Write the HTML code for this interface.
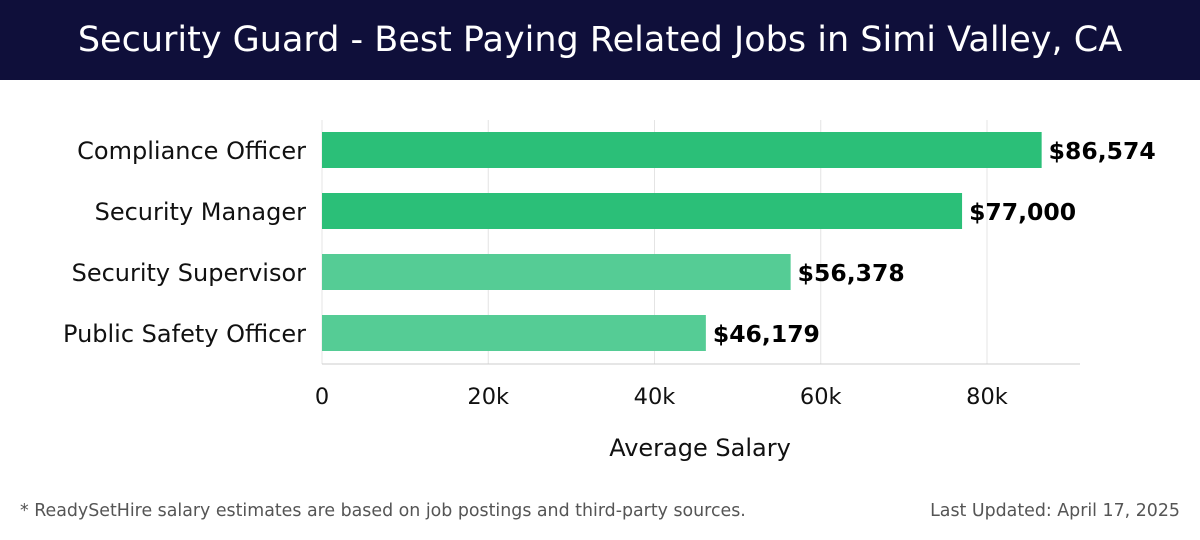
<!DOCTYPE html>
<html><head><meta charset="utf-8"><style>
body{margin:0;width:1200px;height:540px;background:#fff;font-family:"DejaVu Sans","Liberation Sans",sans-serif;overflow:hidden}
#hdr{position:absolute;left:0;top:0;width:1200px;height:80px;background:#0f0f3a;color:#fff;font-size:35px;text-align:center;line-height:80px}
.foot{position:absolute;top:501px;font-size:17.4px;color:#555}
</style></head><body>
<div id="hdr">Security Guard - Best Paying Related Jobs in Simi Valley, CA</div>
<svg id="chart" width="1200" height="460" style="position:absolute;left:0;top:80px;font-family:'DejaVu Sans',sans-serif"></svg>
<div class="foot" style="left:20px">* ReadySetHire salary estimates are based on job postings and third-party sources.</div>
<div class="foot" style="right:20px">Last Updated: April 17, 2025</div>
<script>
const categories=["Compliance Officer","Security Manager","Security Supervisor","Public Safety Officer"];
const values=[86574,77000,56378,46179];
const labels=["$86,574","$77,000","$56,378","$46,179"];
const ticks=[0,20000,40000,60000,80000];
const tickLabels=["0","20k","40k","60k","80k"];
const colors=["#2bbf78","#2bbf78","#55cc95","#55cc95"];
const svg=document.getElementById('chart');
const NS='http://www.w3.org/2000/svg';
const x0=322,x1=987,oy=-80;
const xs=v=>x0+(x1-x0)*v/80000;
const yc=i=>150+i*61+oy;
function mk(t,a,txt){const e=document.createElementNS(NS,t);for(const k in a)e.setAttribute(k,a[k]);if(txt!=null)e.textContent=txt;svg.appendChild(e);return e;}
ticks.forEach((t,i)=>{
const g=mk('line',{x1:xs(t),x2:xs(t),y1:120+oy,y2:364+oy,stroke:'#e4e4e4','stroke-width':1});


const l=mk('text',{x:xs(t),y:404+oy,'text-anchor':'middle','font-size':22.5,fill:'#111'},tickLabels[i]);


});
const ax=mk('line',{x1:x0,x2:1080,y1:364+oy,y2:364+oy,stroke:'#ccc','stroke-width':1});


categories.forEach((c,i)=>{
const b=mk('rect',{x:x0,y:yc(i)-18,width:xs(values[i])-x0,height:36,fill:colors[i]});


const cl=mk('text',{x:306,y:yc(i)+9,'text-anchor':'end','font-size':24,fill:'#111'},c);


const vl=mk('text',{x:xs(values[i])+7,y:yc(i)+9,'font-size':23.5,'font-weight':'bold',fill:'#000'},labels[i]);


});
const at=mk('text',{x:700,y:456+oy,'text-anchor':'middle','font-size':24,fill:'#111'},'Average Salary');


</script>
</body></html>
